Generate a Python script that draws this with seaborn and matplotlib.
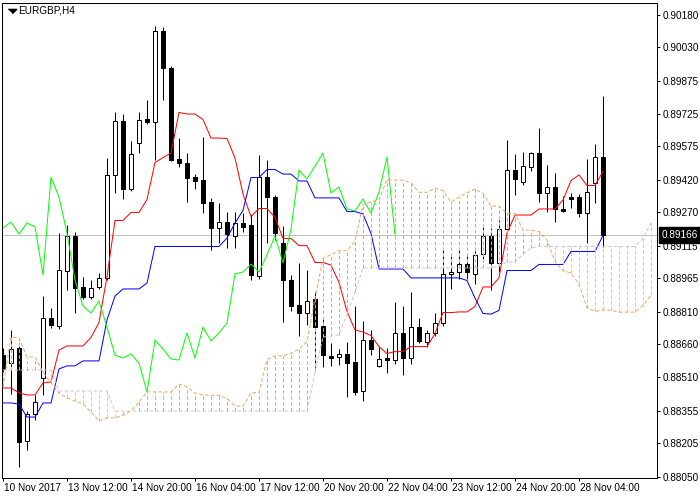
import numpy as np
import matplotlib
matplotlib.use("Agg")
import matplotlib.pyplot as plt
import matplotlib.transforms as mtransforms
import seaborn as sns

# ---------------- data (EURGBP, H4) ----------------
symbol_title = "EURGBP,H4"
last_price_label = "0.89166"

x_tick_labels = ["10 Nov 2017", "13 Nov 12:00", "14 Nov 20:00", "16 Nov 04:00",
                 "17 Nov 12:00", "20 Nov 20:00", "22 Nov 04:00", "23 Nov 12:00",
                 "24 Nov 20:00", "28 Nov 04:00"]
bars_per_label = 8

y_tick_values = [0.90180, 0.90030, 0.89875, 0.89725, 0.89575, 0.89420, 0.89270,
                 0.89115, 0.88965, 0.88810, 0.88660, 0.88510, 0.88355, 0.88205,
                 0.88050]

open_ = [0.88611, 0.88574, 0.88643, 0.88215, 0.88339, 0.88505, 0.88782, 0.88745,
         0.88999, 0.89160, 0.88925, 0.88879, 0.88925, 0.88967, 0.89442, 0.89691,
         0.89377, 0.89589, 0.89700, 0.89686, 0.90106, 0.89935, 0.89515, 0.89497,
         0.89432, 0.89419, 0.89317, 0.89197, 0.89225, 0.89160, 0.89220, 0.89211,
         0.88976, 0.89432, 0.89340, 0.89128, 0.88957, 0.88842, 0.88805, 0.88870,
         0.88745, 0.88607, 0.88602, 0.88616, 0.88579, 0.88445, 0.88680, 0.88561,
         0.88597, 0.88588, 0.88713, 0.88597, 0.88740, 0.88671, 0.88713, 0.88759,
         0.88985, 0.88994, 0.89031, 0.88985, 0.89077, 0.89160, 0.89036, 0.89192,
         0.89465, 0.89409, 0.89479, 0.89543, 0.89359, 0.89386, 0.89285, 0.89340,
         0.89340, 0.89266, 0.89405, 0.89525]

high = [0.88644, 0.88727, 0.88667, 0.88353, 0.88427, 0.88883, 0.88828, 0.89174,
        0.89211, 0.89179, 0.88971, 0.88957, 0.88990, 0.89520, 0.89732, 0.89723,
        0.89598, 0.89732, 0.89788, 0.90129, 0.90124, 0.89944, 0.89612, 0.89543,
        0.89446, 0.89617, 0.89336, 0.89312, 0.89271, 0.89271, 0.89266, 0.89257,
        0.89534, 0.89511, 0.89349, 0.89206, 0.88980, 0.89036, 0.89003, 0.88902,
        0.88787, 0.88667, 0.88639, 0.88671, 0.88837, 0.88768, 0.88727, 0.88648,
        0.88644, 0.88856, 0.88837, 0.88902, 0.88782, 0.88727, 0.88805, 0.89096,
        0.89068, 0.89100, 0.89073, 0.89091, 0.89202, 0.89197, 0.89234, 0.89603,
        0.89538, 0.89548, 0.89548, 0.89659, 0.89488, 0.89451, 0.89345, 0.89359,
        0.89354, 0.89515, 0.89585, 0.89806]

low = [0.88519, 0.88431, 0.88095, 0.88173, 0.88311, 0.88427, 0.88736, 0.88731,
       0.88911, 0.88805, 0.88870, 0.88870, 0.88916, 0.88957, 0.89359, 0.89331,
       0.89368, 0.89543, 0.89677, 0.89511, 0.89788, 0.89506, 0.89479, 0.89317,
       0.89377, 0.89266, 0.89096, 0.89128, 0.89105, 0.89105, 0.89179, 0.88957,
       0.88962, 0.89128, 0.89142, 0.88763, 0.88814, 0.88699, 0.88750, 0.88542,
       0.88556, 0.88561, 0.88565, 0.88418, 0.88427, 0.88399, 0.88611, 0.88556,
       0.88528, 0.88570, 0.88519, 0.88570, 0.88667, 0.88648, 0.88699, 0.88745,
       0.88916, 0.88962, 0.88962, 0.88939, 0.89054, 0.88911, 0.88994, 0.89174,
       0.89349, 0.89396, 0.89460, 0.89317, 0.89271, 0.89225, 0.89271, 0.89289,
       0.89248, 0.89128, 0.89312, 0.89110]

close = [0.88547, 0.88639, 0.88210, 0.88339, 0.88394, 0.88782, 0.88750, 0.89003,
         0.89160, 0.88920, 0.88879, 0.88920, 0.88967, 0.89442, 0.89691, 0.89377,
         0.89538, 0.89695, 0.89686, 0.90106, 0.89935, 0.89511, 0.89497, 0.89428,
         0.89414, 0.89312, 0.89197, 0.89225, 0.89169, 0.89220, 0.89202, 0.88980,
         0.89432, 0.89340, 0.89174, 0.88957, 0.88837, 0.88805, 0.88860, 0.88740,
         0.88611, 0.88597, 0.88616, 0.88574, 0.88441, 0.88680, 0.88639, 0.88593,
         0.88588, 0.88713, 0.88597, 0.88740, 0.88676, 0.88713, 0.88759, 0.88985,
         0.88994, 0.89031, 0.88994, 0.89073, 0.89160, 0.89036, 0.89192, 0.89465,
         0.89423, 0.89483, 0.89543, 0.89359, 0.89386, 0.89285, 0.89276, 0.89331,
         0.89266, 0.89363, 0.89525, 0.89166]

tenkan = [0.88459, 0.88459, 0.88436, 0.88427, 0.88427, 0.88482, 0.88487, 0.88634,
          0.88653, 0.88653, 0.88653, 0.88692, 0.88761, 0.88973, 0.89232, 0.89232,
          0.89269, 0.89269, 0.89329, 0.89499, 0.89522, 0.89543, 0.89730, 0.89723,
          0.89723, 0.89698, 0.89612, 0.89612, 0.89610, 0.89520, 0.89354, 0.89250,
          0.89287, 0.89287, 0.89246, 0.89149, 0.89149, 0.89116, 0.89116, 0.89038,
          0.89038, 0.89026, 0.88946, 0.88812, 0.88727, 0.88717, 0.88701, 0.88650,
          0.88618, 0.88627, 0.88627, 0.88650, 0.88650, 0.88650, 0.88710, 0.88807,
          0.88807, 0.88810, 0.88810, 0.88835, 0.88925, 0.88925, 0.88967, 0.89174,
          0.89257, 0.89257, 0.89257, 0.89285, 0.89285, 0.89285, 0.89326, 0.89416,
          0.89442, 0.89393, 0.89393, 0.89458]

kijun = [0.88390, 0.88390, 0.88385, 0.88325, 0.88325, 0.88390, 0.88390, 0.88547,
         0.88561, 0.88561, 0.88584, 0.88584, 0.88584, 0.88773, 0.88883, 0.88916,
         0.88916, 0.88916, 0.88943, 0.89112, 0.89112, 0.89112, 0.89112, 0.89112,
         0.89112, 0.89112, 0.89112, 0.89112, 0.89151, 0.89220, 0.89278, 0.89430,
         0.89430, 0.89467, 0.89467, 0.89446, 0.89446, 0.89414, 0.89414, 0.89336,
         0.89336, 0.89336, 0.89336, 0.89273, 0.89273, 0.89262, 0.89172, 0.89008,
         0.89008, 0.89008, 0.89008, 0.88967, 0.88967, 0.88967, 0.88967, 0.88967,
         0.88967, 0.88967, 0.88955, 0.88874, 0.88803, 0.88800, 0.88817, 0.89001,
         0.89001, 0.89001, 0.89001, 0.89029, 0.89029, 0.89029, 0.89029, 0.89089,
         0.89089, 0.89089, 0.89089, 0.89163]

senkou_a = [0.88464, 0.88694, 0.88690, 0.88602, 0.88602, 0.88533, 0.88482, 0.88436,
            0.88413, 0.88399, 0.88385, 0.88348, 0.88307, 0.88321, 0.88321, 0.88334,
            0.88353, 0.88394, 0.88441, 0.88441, 0.88441, 0.88441, 0.88477, 0.88464,
            0.88436, 0.88427, 0.88425, 0.88425, 0.88411, 0.88376, 0.88376, 0.88436,
            0.88439, 0.88591, 0.88607, 0.88607, 0.88619, 0.88638, 0.88673, 0.88873,
            0.89058, 0.89074, 0.89093, 0.89093, 0.89136, 0.89306, 0.89317, 0.89328,
            0.89421, 0.89418, 0.89418, 0.89405, 0.89362, 0.89362, 0.89381, 0.89370,
            0.89316, 0.89340, 0.89359, 0.89377, 0.89357, 0.89298, 0.89298, 0.89265,
            0.89265, 0.89187, 0.89187, 0.89181, 0.89141, 0.89043, 0.89000, 0.88990,
            0.88937, 0.88829, 0.88813, 0.88818, 0.88818, 0.88809, 0.88809, 0.88809,
            0.88839, 0.88887]

senkou_b = [0.88542, 0.88542, 0.88542, 0.88542, 0.88542, 0.88542, 0.88542, 0.88445,
            0.88445, 0.88445, 0.88445, 0.88445, 0.88445, 0.88445, 0.88353, 0.88353,
            0.88353, 0.88353, 0.88353, 0.88353, 0.88353, 0.88353, 0.88353, 0.88353,
            0.88353, 0.88353, 0.88353, 0.88353, 0.88353, 0.88353, 0.88353, 0.88353,
            0.88353, 0.88353, 0.88353, 0.88353, 0.88353, 0.88353, 0.88353, 0.88533,
            0.88694, 0.88699, 0.88704, 0.88800, 0.88902, 0.89013, 0.89013, 0.89013,
            0.89013, 0.89013, 0.89013, 0.89013, 0.89013, 0.89013, 0.89013, 0.89013,
            0.89013, 0.89013, 0.89013, 0.89013, 0.89013, 0.89013, 0.89022, 0.89040,
            0.89040, 0.89077, 0.89105, 0.89112, 0.89112, 0.89112, 0.89112, 0.89112,
            0.89112, 0.89112, 0.89112, 0.89112, 0.89112, 0.89112, 0.89112, 0.89112,
            0.89151, 0.89220]

chikou_shift = 26

# ---------------- styling ----------------
plt.rcParams['lines.scale_dashes'] = False
sns.set_theme(style="white")
plt.rcParams['font.family'] = ['Liberation Sans', 'DejaVu Sans']
plt.rcParams['axes.edgecolor'] = 'black'
plt.rcParams['axes.linewidth'] = 0.72

PX = 0.72            # one pixel, in points
DOT = (0, (2.6, 1.6))

fig = plt.figure(figsize=(7, 5), dpi=100)
fig.patch.set_facecolor('white')
ax = fig.add_axes([2 / 700, 22 / 500, 655 / 700, 475.5 / 500])
ax.set_facecolor('white')

o = np.array(open_)
h = np.array(high)
l = np.array(low)
c = np.array(close)
idx = np.arange(len(c))

# current price line
ax.axhline(c[-1], color='#C0C0C0', lw=PX, zorder=1)

# candles
ax.vlines(idx, l, h, color='black', lw=PX, zorder=2)
bull = c >= o
bottoms = np.minimum(o, c)
heights = np.abs(c - o)
ax.bar(idx[bull], heights[bull], bottom=bottoms[bull], width=0.5,
       color='white', edgecolor='black', linewidth=PX, zorder=3)
ax.bar(idx[~bull], heights[~bull], bottom=bottoms[~bull], width=0.5,
       color='black', edgecolor='black', linewidth=PX, zorder=3)

# Tenkan / Kijun
sns.lineplot(x=idx, y=np.array(tenkan), color='#FF0000', lw=PX, ax=ax,
             estimator=None, sort=False, zorder=4)
sns.lineplot(x=idx, y=np.array(kijun), color='#0000FF', lw=PX, ax=ax,
             estimator=None, sort=False, zorder=4)

# Kumo hatch
sa = np.array(senkou_a)
sb = np.array(senkou_b)
xs = np.arange(len(sa))
up = sa >= sb
ax.vlines(xs[up], sb[up], sa[up], colors='#F4A460', linestyles=[DOT], lw=PX, zorder=5)
ax.vlines(xs[~up], sa[~up], sb[~up], colors='#D8BFD8', linestyles=[DOT], lw=PX, zorder=5)

# Chikou
sns.lineplot(x=idx[:len(c) - chikou_shift], y=c[chikou_shift:], color='#00FF00',
             lw=PX, ax=ax, estimator=None, sort=False, zorder=6)

# Senkou span lines
sns.lineplot(x=xs, y=sa, color='#F4A460', lw=PX, linestyle=DOT, ax=ax,
             estimator=None, sort=False, zorder=7)
sns.lineplot(x=xs, y=sb, color='#D8BFD8', lw=PX, linestyle=DOT, ax=ax,
             estimator=None, sort=False, zorder=7)

# ---------------- axes ----------------
ax.set_xlim(-0.125, 81.75)
ax.set_ylim(0.880438, 0.902375)
ax.grid(False)
ax.set_xlabel("")
ax.set_ylabel("")
for sp in ax.spines.values():
    sp.set_visible(True)
    sp.set_color('black')
    sp.set_linewidth(PX)

ax.yaxis.tick_right()
ax.set_yticks(y_tick_values)
ax.set_yticklabels([f"{v:.5f}" for v in y_tick_values])
ax.set_xticks(np.arange(len(x_tick_labels)) * bars_per_label)
ax.set_xticklabels(x_tick_labels)
ax.tick_params(axis='both', which='major', direction='out', length=2.2, width=PX,
               color='black', labelcolor='black', labelsize=7.2)
ax.tick_params(axis='y', pad=2.2, left=False, right=True)
ax.tick_params(axis='x', pad=1.5, bottom=True)
for lab in ax.get_yticklabels():
    lab.set_horizontalalignment('left')
off = mtransforms.ScaledTranslation(1 / 100, 0, fig.dpi_scale_trans)
for lab in ax.get_xticklabels():
    lab.set_horizontalalignment('left')
    lab.set_transform(lab.get_transform() + off)

# current price tag
tag_off = mtransforms.ScaledTranslation(5 / 100, 0, fig.dpi_scale_trans)
ax.text(1.0, c[-1], last_price_label, transform=ax.get_yaxis_transform() + tag_off,
        ha='left', va='center', color='white', fontsize=7.2, clip_on=False, zorder=10,
        bbox=dict(boxstyle='square,pad=0.3', fc='black', ec='black'))

# title with small triangle
ax.plot([9.5 / 655], [1 - 8.5 / 475.5], transform=ax.transAxes,
        marker=[(-1, 0.5), (1, 0.5), (0, -0.5)], markersize=6, color='black',
        clip_on=False, zorder=10)
ax.text(16 / 655, 1 - 8.3 / 475.5, symbol_title, transform=ax.transAxes,
        ha='left', va='center', fontsize=7.2, color='black', zorder=10)

fig.savefig("out.png", dpi=100, facecolor='white')
